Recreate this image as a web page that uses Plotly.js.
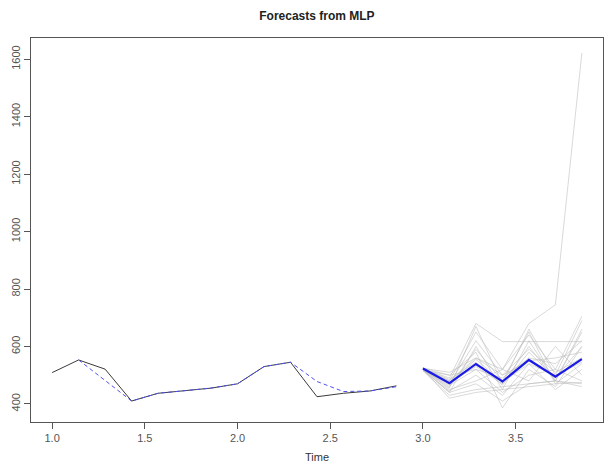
<!DOCTYPE html>
<html>
<head>
<meta charset="utf-8">
<script src="https://cdn.plot.ly/plotly-3.0.1.min.js"></script>
<style>html,body{margin:0;padding:0;background:#fff;}#chart{width:606px;height:463px;}</style>
</head>
<body>
<div id="chart"></div>
<script>
// Historical series (frequency 7, starting at time 1.0)
const histStart = 1.0;
const freq = 7;
const actual = [509, 553, 521, 410, 437, 446, 455, 470, 530, 545, 425, 437, 445, 463];
// Fitted values (first value not available)
const fitted = [null, 553, 482, 410, 437, 446, 455, 470, 530, 545, 478, 443, 445, 460];
// Forecast (combined), starting at time 3.0
const fcStart = 3.0;
const forecast = [523, 472, 539, 478, 553, 495, 556];
// Individual network forecasts
const reps = [
  [522, 470, 540, 475, 555, 495, 560],
  [520, 455, 670, 470, 660, 500, 690],
  [525, 480, 650, 520, 640, 520, 705],
  [518, 440, 600, 450, 620, 480, 650],
  [523, 490, 680, 617, 617, 617, 617],
  [520, 480, 560, 520, 680, 745, 1622],
  [515, 430, 450, 460, 470, 480, 470],
  [520, 420, 440, 450, 460, 470, 475],
  [525, 500, 580, 386, 520, 460, 600],
  [519, 465, 520, 490, 560, 540, 620],
  [521, 475, 530, 470, 600, 480, 660],
  [524, 510, 560, 500, 550, 560, 580],
  [517, 445, 500, 430, 540, 450, 520],
  [520, 460, 590, 480, 650, 470, 540],
  [522, 450, 480, 520, 480, 600, 500],
  [518, 500, 520, 440, 500, 520, 480],
  [526, 470, 620, 500, 590, 510, 560],
  [520, 440, 470, 410, 470, 480, 460],
  [523, 485, 545, 465, 580, 490, 600],
  [521, 475, 555, 475, 540, 500, 545]
];
const xTicks = [1.0, 1.5, 2.0, 2.5, 3.0, 3.5];
const yTicks = [400, 600, 800, 1000, 1200, 1400, 1600];

const tHist = actual.map((_, i) => histStart + i / freq);
const tFc = forecast.map((_, i) => fcStart + i / freq);

const traces = [];
reps.forEach(r => traces.push({
  x: tFc, y: r, type: 'scatter', mode: 'lines',
  line: {color: 'rgba(185,185,185,0.55)', width: 1}, hoverinfo: 'skip'
}));
traces.push({x: tHist, y: actual, type: 'scatter', mode: 'lines',
  line: {color: '#3a3a3a', width: 1}});
traces.push({x: tHist, y: fitted, type: 'scatter', mode: 'lines',
  line: {color: '#5050f0', width: 1, dash: '4px,3px'}});
traces.push({x: tFc, y: forecast, type: 'scatter', mode: 'lines',
  line: {color: '#1a1ae6', width: 2.2}});

const axisCommon = {
  showgrid: false, zeroline: false, showline: true, mirror: true,
  linecolor: '#555', linewidth: 1, ticks: 'outside', ticklen: 6,
  tickcolor: '#555', tickfont: {family: 'Liberation Sans, Arial', size: 11, color: '#555'}
};

const layout = {
  width: 606, height: 463,
  margin: {l: 31, r: 3, t: 38, b: 41},
  paper_bgcolor: '#fff', plot_bgcolor: '#fff',
  showlegend: false,
  title: {text: '<b>Forecasts from MLP</b>', x: 0.523, xanchor: 'center', y: 0.965, yanchor: 'middle',
    font: {family: 'Liberation Sans, Arial', size: 12, color: '#222'}},
  xaxis: Object.assign({}, axisCommon, {
    range: [0.886, 3.971], tickvals: xTicks, ticktext: xTicks.map(v => v.toFixed(1)),
    title: {text: 'Time', standoff: 10, font: {family: 'Liberation Sans, Arial', size: 11, color: '#333'}}
  }),
  yaxis: Object.assign({}, axisCommon, {
    range: [337, 1674], tickvals: yTicks, ticktext: yTicks.map(String), tickangle: -90
  })
};

Plotly.newPlot('chart', traces, layout, {displayModeBar: false, staticPlot: true});
</script>
</body>
</html>
